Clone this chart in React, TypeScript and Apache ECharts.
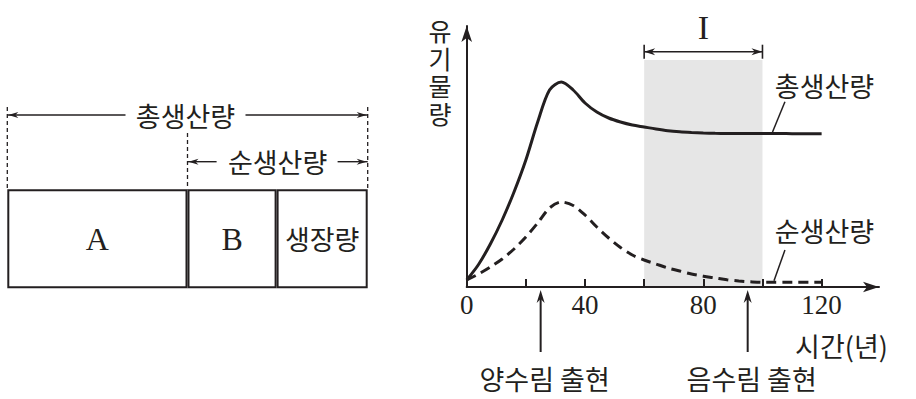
import { useEffect, useRef } from 'react';
import * as echarts from 'echarts';

// ---- data ----
const years = [0, 4, 8, 12, 16, 20, 24, 28, 32, 36, 40, 44, 48, 52, 56, 60, 64, 68, 72, 76, 80, 84, 88, 92, 96, 100, 104, 108, 112, 116, 120];
const grossProduction = [7, 22.5, 43, 67, 95, 127, 165, 197, 205, 197, 184, 175, 169, 165, 162, 160, 158, 156.3, 155.2, 154.5, 154, 153.7, 153.5, 153.4, 153.4, 153.4, 153.4, 153.4, 153.3, 153.3, 153.3];
const netProduction = [7, 13, 20, 28, 38, 50, 64, 79, 85, 81.5, 72, 60, 49, 39.5, 32, 27, 23, 19, 16, 13, 10.8, 9, 7.2, 6, 5.2, 4.7, 4.7, 4.7, 4.7, 4.7, 4.7];
const seriesNames = ['총생산량', '순생산량'];
const periodI = [60, 100];
const periodLabel = 'I';
const bandTop = 227;
const eventYears = [25, 95];
const eventLabels = ['양수림 출현', '음수림 출현'];
const xTickValues = [20, 40, 60, 80, 100, 120];
const xLabelValues = [0, 40, 80, 120];
const xAxisName = '시간(년)';
const yAxisName = '유기물량';
const budgetParts = ['A', 'B', '생장량'];
const budgetWidths = [180, 89, 91];

const ink = '#231f20';
const serif = '"Liberation Serif", "DejaVu Serif", serif';
const sans = '"Noto Sans CJK KR", "Noto Sans", sans-serif';

function head(tx: number, ty: number, dx: number, dy: number, len: number, half: number) {
  const bx = tx - dx * len;
  const by = ty - dy * len;
  const nx = -dy;
  const ny = dx;
  return {
    type: 'polygon',
    silent: true,
    shape: { points: [[tx, ty], [bx + nx * half, by + ny * half], [tx - dx * len * 0.7, ty - dy * len * 0.7], [bx - nx * half, by - ny * half]] },
    style: { fill: ink },
    z: 20,
  };
}
function seg(x1: number, y1: number, x2: number, y2: number, w = 1.6, dash?: number[]) {
  return {
    type: 'line',
    silent: true,
    shape: { x1, y1, x2, y2 },
    style: { stroke: ink, lineWidth: w, lineDash: dash },
    z: 20,
  };
}
function txt(text: string, x: number, y: number, size: number, family: string, extra: any = {}) {
  return {
    type: 'text',
    silent: true,
    x,
    y,
    style: { text, fill: ink, fontSize: size, fontFamily: family, align: 'center', verticalAlign: 'middle', ...extra },
    z: 20,
  };
}

export default function App() {
  const ref = useRef<HTMLDivElement>(null);
  useEffect(() => {
    const chart = echarts.init(ref.current!, null, { renderer: 'svg' });
    const toPair = (vals: number[]) => years.map((y, i) => [y, vals[i]]);

    const budgetSeries = budgetParts.map((name, i) => ({
      type: 'bar',
      name,
      stack: 'budget',
      xAxisIndex: 1,
      yAxisIndex: 1,
      data: [budgetWidths[i]],
      barWidth: '100%',
      silent: true,
      itemStyle: { color: '#fff', borderColor: ink, borderWidth: 2 },
      label: {
        show: true,
        position: 'inside',
        formatter: name,
        color: ink,
        fontFamily: i < 2 ? serif : sans,
        fontSize: i < 2 ? 32 : 27,
      },
    }));

    const option: any = {
      animation: false,
      backgroundColor: '#fff',
      grid: [
        { left: 466.7, right: 37, top: 26, bottom: 112 },
        { left: 7.3, right: 548.3, top: 189.3, bottom: 110.7 },
      ],
      xAxis: [
        {
          type: 'value',
          gridIndex: 0,
          min: 0,
          max: 139.4,
          z: 5,
          splitLine: { show: false },
          axisLine: { show: true, lineStyle: { color: ink, width: 2 }, symbol: ['none', 'arrow'], symbolSize: [8, 16] },
          axisTick: { show: true, inside: true, length: 8, lineStyle: { color: ink, width: 2 }, customValues: xTickValues },
          axisLabel: { show: true, customValues: xLabelValues, color: ink, fontFamily: serif, fontSize: 27, margin: 4 },
        },
        { type: 'value', gridIndex: 1, min: 0, max: 360, show: false },
      ],
      yAxis: [
        {
          type: 'value',
          gridIndex: 0,
          min: 0,
          max: 261,
          z: 5,
          splitLine: { show: false },
          axisTick: { show: false },
          axisLabel: { show: false },
          axisLine: { show: true, lineStyle: { color: ink, width: 2 }, symbol: ['none', 'arrow'], symbolSize: [8, 16] },
        },
        { type: 'category', gridIndex: 1, data: [''], show: false },
      ],
      series: [
        {
          type: 'line',
          name: seriesNames[0],
          data: toPair(grossProduction),
          smooth: 0.3,
          showSymbol: false,
          silent: true,
          z: 3,
          lineStyle: { color: ink, width: 3 },
          markArea: {
            silent: true,
            itemStyle: { color: '#e6e6e6' },
            data: [[{ xAxis: periodI[0], yAxis: 0 }, { xAxis: periodI[1], yAxis: bandTop }]],
          },
        },
        {
          type: 'line',
          name: seriesNames[1],
          data: toPair(netProduction),
          smooth: 0.3,
          showSymbol: false,
          silent: true,
          z: 3,
          lineStyle: { color: ink, width: 3, type: [10, 6] },
        },
        ...budgetSeries,
      ],
    };
    chart.setOption(option);

    const P = (x: number, y: number) => chart.convertToPixel({ gridIndex: 0 }, [x, y]) as number[];
    const BX = (v: number) => chart.convertToPixel({ xAxisIndex: 1 }, v) as number;

    const g: any[] = [];
    // y axis name (vertical, one character per line, as in the reference)
    yAxisName.split('').forEach((ch, i) => {
      g.push(txt(ch, 440, 30 + i * 27.7, 25, sans));
    });
    // x axis name
    g.push(txt(xAxisName, 841.5, 345, 27, sans));

    // series labels with leader lines
    const gLo = P(103.4, 155), gHi = P(107.6, 185.3);
    g.push(seg(gLo[0], gLo[1], gHi[0], gHi[1], 1.5));
    g.push(txt(seriesNames[0], 824.5, 85, 27, sans));
    const nLo = P(103.9, 6.3), nHi = P(107.6, 37);
    g.push(seg(nLo[0], nLo[1], nHi[0], nHi[1], 1.5));
    g.push(txt(seriesNames[1], 824.5, 230, 27, sans));

    // period I bracket
    const a = P(periodI[0], 235.3), b = P(periodI[1], 235.3);
    g.push(seg(a[0], a[1], b[0], b[1], 1.6));
    g.push(head(a[0], a[1], -1, 0, 11, 3.5));
    g.push(head(b[0], b[1], 1, 0, 11, 3.5));
    g.push(seg(a[0], a[1] - 7, a[0], a[1] + 7, 1.6));
    g.push(seg(b[0], b[1] - 7, b[0], b[1] + 7, 1.6));
    g.push(txt(periodLabel, (a[0] + b[0]) / 2, 27, 34, serif));

    // event arrows
    eventYears.forEach((yr, i) => {
      const p = P(yr, 0);
      const tipY = p[1] + 3;
      g.push(seg(p[0], tipY + 8, p[0], 352, 2));
      g.push(head(p[0], tipY, 0, -1, 13, 4));
      g.push(txt(eventLabels[i], p[0] + 4, 378, 27, sans));
    });

    // left diagram brackets
    const x0 = BX(0), xMid = BX(budgetWidths[0]), xEnd = BX(budgetWidths[0] + budgetWidths[1] + budgetWidths[2]);
    const rectTop = 189.3;
    const dash = [4, 3];
    g.push(seg(x0, 107, x0, rectTop, 1.3, dash));
    g.push(seg(xEnd, 107, xEnd, rectTop, 1.3, dash));
    g.push(seg(xMid, 133, xMid, rectTop, 1.3, dash));
    const y1 = 115;
    const c1 = (x0 + xEnd) / 2;
    g.push(seg(x0, y1, c1 - 62, y1, 1.4));
    g.push(seg(c1 + 58, y1, xEnd, y1, 1.4));
    g.push(head(x0 + 1, y1, -1, 0, 10, 3));
    g.push(head(xEnd - 1, y1, 1, 0, 10, 3));
    g.push(txt(seriesNames[0], c1 - 2, y1, 27, sans));
    const y2 = 161.7;
    const c2 = (xMid + xEnd) / 2;
    g.push(seg(xMid, y2, c2 - 61, y2, 1.4));
    g.push(seg(c2 + 60, y2, xEnd, y2, 1.4));
    g.push(head(xMid + 1, y2, -1, 0, 10, 3));
    g.push(head(xEnd - 1, y2, 1, 0, 10, 3));
    g.push(txt(seriesNames[1], c2, y2, 27, sans));

    chart.setOption({ graphic: g });
    return () => chart.dispose();
  }, []);
  return (
    <div
      ref={ref}
      style={{ position: 'absolute', left: 0, top: 0, width: 916, height: 399, background: '#fff' }}
    />
  );
}
